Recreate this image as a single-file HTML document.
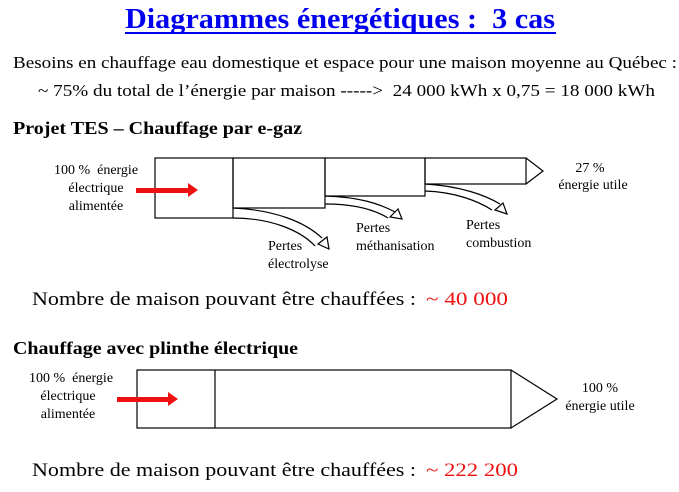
<!DOCTYPE html>
<html><head><meta charset="utf-8"><style>body{margin:0;background:#fff}svg{display:block}text{font-family:"Liberation Serif","Times New Roman",serif}</style></head><body>
<svg width="679" height="492" viewBox="0 0 679 492" xmlns="http://www.w3.org/2000/svg">
<text x="125" y="28" font-size="28" font-weight="bold" fill="#0000ee" textLength="430" lengthAdjust="spacingAndGlyphs">Diagrammes énergétiques :&#160; 3 cas</text>
<line x1="125" y1="33" x2="556" y2="33" stroke="#0000ee" stroke-width="2"/>
<text x="13" y="68" font-size="17" textLength="664" lengthAdjust="spacingAndGlyphs">Besoins en chauffage eau domestique et espace pour une maison moyenne au Québec :</text>
<text x="38" y="96" font-size="17" textLength="617" lengthAdjust="spacingAndGlyphs">~ 75% du total de l’énergie par maison -----&gt;&#160; 24 000 kWh x 0,75 = 18 000 kWh</text>
<text x="13" y="134" font-size="18" font-weight="bold" textLength="289" lengthAdjust="spacingAndGlyphs">Projet TES – Chauffage par e-gaz</text>

<g fill="none" stroke="#000" stroke-width="1.2">
<rect x="155" y="158" width="78" height="60"/>
<rect x="233" y="158" width="92" height="50"/>
<rect x="325" y="158" width="100" height="38"/>
<rect x="425" y="158" width="101" height="26"/>
<polyline points="526,158 543,171 526,184"/>
<path d="M233,208 C275,210 305,222 322,238 M233,218 C270,218 300,230 315,246"/>
<polygon points="318,244 327,237 329,249" fill="#fff"/>
<path d="M325,196 C360,197 380,204 395,212 M325,204 C355,204 375,210 388,218"/>
<polygon points="390,217 398,209 402,219" fill="#fff"/>
<path d="M425,184 C460,186 485,195 500,204 M425,191 C455,192 478,201 492,210"/>
<polygon points="495,210 503,203 507,214" fill="#fff"/>
</g>
<polygon points="136,188 188,188 188,183 198,190 188,197 188,193 136,193" fill="#ee1111"/>
<g font-size="14" text-anchor="middle">
<text x="96" y="174">100 %&#160; énergie</text>
<text x="96" y="192">électrique</text>
<text x="96" y="210">alimentée</text>
<text x="590" y="172">27 %</text>
<text x="593" y="189">énergie utile</text>
</g>
<g font-size="14">
<text x="268" y="250">Pertes</text>
<text x="268" y="268">électrolyse</text>
<text x="356" y="232">Pertes</text>
<text x="356" y="250">méthanisation</text>
<text x="466" y="229">Pertes</text>
<text x="466" y="247">combustion</text>
</g>
<text x="32" y="305" font-size="19" textLength="384" lengthAdjust="spacingAndGlyphs">Nombre de maison pouvant être chauffées :</text>
<text x="426" y="305" font-size="19" fill="#ee1111" textLength="82" lengthAdjust="spacingAndGlyphs">~ 40 000</text>

<text x="13" y="354" font-size="18" font-weight="bold" textLength="285" lengthAdjust="spacingAndGlyphs">Chauffage avec plinthe électrique</text>
<g fill="none" stroke="#000" stroke-width="1.2">
<rect x="137" y="370" width="374" height="58"/>
<line x1="215" y1="370" x2="215" y2="428"/>
<polyline points="511,370 557,399 511,428"/>
</g>
<polygon points="117,397 168,397 168,392 178,399 168,406 168,402 117,402" fill="#ee1111"/>
<g font-size="14" text-anchor="middle">
<text x="71" y="382">100 %&#160; énergie</text>
<text x="68" y="400">électrique</text>
<text x="68" y="418">alimentée</text>
<text x="600" y="392">100 %</text>
<text x="600" y="410">énergie utile</text>
</g>
<text x="32" y="476" font-size="19" textLength="384" lengthAdjust="spacingAndGlyphs">Nombre de maison pouvant être chauffées :</text>
<text x="426" y="476" font-size="19" fill="#ee1111" textLength="92" lengthAdjust="spacingAndGlyphs">~ 222 200</text>
</svg>
</body></html>
